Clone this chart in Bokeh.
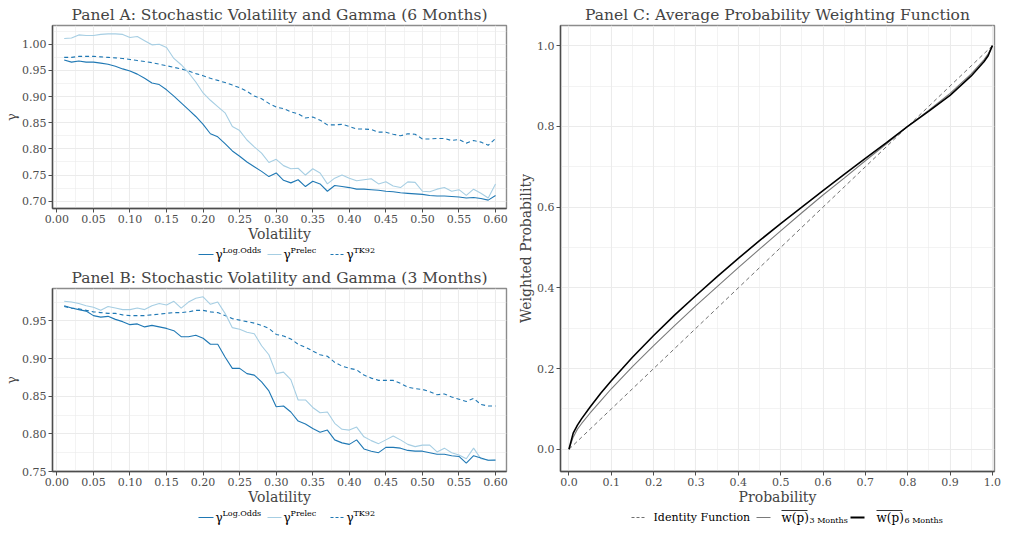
from bokeh.plotting import figure
from bokeh.layouts import column, row
from bokeh.models import Range1d, FixedTicker, NumeralTickFormatter
from bokeh.embed import file_html
from bokeh.resources import INLINE
from bokeh.core.properties import value

FONT = "DejaVu Serif"
BLUE = "#1F78B4"
LIGHT = "#A6CEE3"

volatility = [0.01, 0.02, 0.03, 0.04, 0.05, 0.06, 0.07, 0.08, 0.09, 0.10,
              0.11, 0.12, 0.13, 0.14, 0.15, 0.16, 0.17, 0.18, 0.19, 0.20,
              0.21, 0.22, 0.23, 0.24, 0.25, 0.26, 0.27, 0.28, 0.29, 0.30,
              0.31, 0.32, 0.33, 0.34, 0.35, 0.36, 0.37, 0.38, 0.39, 0.40,
              0.41, 0.42, 0.43, 0.44, 0.45, 0.46, 0.47, 0.48, 0.49, 0.50,
              0.51, 0.52, 0.53, 0.54, 0.55, 0.56, 0.57, 0.58, 0.59, 0.60]

# Panel A (6 months)
a_log_odds = [0.970, 0.966, 0.968, 0.966, 0.966, 0.964, 0.962, 0.958, 0.953, 0.949,
              0.943, 0.935, 0.926, 0.923, 0.913, 0.901, 0.888, 0.875, 0.862, 0.847,
              0.829, 0.823, 0.810, 0.796, 0.786, 0.775, 0.766, 0.757, 0.747, 0.754,
              0.740, 0.735, 0.741, 0.728, 0.738, 0.733, 0.719, 0.730, 0.728, 0.726,
              0.723, 0.723, 0.722, 0.721, 0.719, 0.718, 0.716, 0.715, 0.714, 0.713,
              0.711, 0.710, 0.710, 0.709, 0.708, 0.706, 0.707, 0.705, 0.702, 0.711]
a_prelec = [1.011, 1.012, 1.018, 1.017, 1.017, 1.019, 1.020, 1.020, 1.019, 1.013,
            1.015, 1.007, 0.999, 1.000, 0.994, 0.973, 0.961, 0.946, 0.928, 0.907,
            0.893, 0.881, 0.869, 0.843, 0.835, 0.817, 0.804, 0.792, 0.774, 0.780,
            0.768, 0.762, 0.763, 0.750, 0.762, 0.754, 0.733, 0.744, 0.750, 0.744,
            0.739, 0.741, 0.743, 0.733, 0.737, 0.729, 0.726, 0.737, 0.736, 0.719,
            0.718, 0.723, 0.726, 0.719, 0.722, 0.711, 0.723, 0.715, 0.706, 0.733]
a_tk92 = [0.975, 0.975, 0.977, 0.977, 0.977, 0.976, 0.975, 0.974, 0.973, 0.971,
          0.969, 0.967, 0.965, 0.962, 0.959, 0.956, 0.953, 0.949, 0.944, 0.940,
          0.935, 0.931, 0.927, 0.922, 0.917, 0.910, 0.901, 0.896, 0.887, 0.880,
          0.877, 0.871, 0.867, 0.859, 0.861, 0.855, 0.846, 0.846, 0.847, 0.843,
          0.838, 0.838, 0.837, 0.832, 0.832, 0.828, 0.825, 0.829, 0.828, 0.819,
          0.819, 0.820, 0.820, 0.816, 0.818, 0.811, 0.816, 0.813, 0.807, 0.820]

# Panel B (3 months)
b_log_odds = [0.970, 0.967, 0.965, 0.963, 0.957, 0.955, 0.956, 0.952, 0.949, 0.945,
              0.946, 0.942, 0.944, 0.942, 0.940, 0.937, 0.929, 0.929, 0.931, 0.927,
              0.919, 0.919, 0.902, 0.887, 0.887, 0.880, 0.878, 0.869, 0.857, 0.836,
              0.837, 0.829, 0.817, 0.813, 0.807, 0.802, 0.805, 0.792, 0.788, 0.786,
              0.792, 0.780, 0.777, 0.775, 0.782, 0.782, 0.781, 0.778, 0.777, 0.777,
              0.775, 0.773, 0.773, 0.771, 0.770, 0.761, 0.771, 0.768, 0.765, 0.765]
b_prelec = [0.976, 0.975, 0.973, 0.970, 0.968, 0.964, 0.969, 0.967, 0.965, 0.965,
            0.967, 0.965, 0.970, 0.973, 0.971, 0.976, 0.967, 0.975, 0.980, 0.982,
            0.972, 0.975, 0.960, 0.941, 0.939, 0.935, 0.933, 0.917, 0.905, 0.880,
            0.882, 0.872, 0.845, 0.845, 0.835, 0.828, 0.829, 0.814, 0.806, 0.805,
            0.809, 0.796, 0.791, 0.787, 0.792, 0.797, 0.792, 0.786, 0.783, 0.785,
            0.785, 0.776, 0.781, 0.775, 0.772, 0.767, 0.781, 0.767, 0.765, 0.766]
b_tk92 = [0.969, 0.967, 0.966, 0.964, 0.962, 0.961, 0.960, 0.960, 0.958, 0.957,
          0.957, 0.957, 0.958, 0.959, 0.960, 0.961, 0.961, 0.962, 0.964, 0.964,
          0.962, 0.961, 0.957, 0.953, 0.951, 0.949, 0.947, 0.944, 0.940, 0.932,
          0.930, 0.926, 0.919, 0.915, 0.910, 0.905, 0.903, 0.895, 0.890, 0.887,
          0.885, 0.878, 0.874, 0.871, 0.871, 0.871, 0.867, 0.862, 0.860, 0.859,
          0.856, 0.852, 0.853, 0.849, 0.846, 0.843, 0.847, 0.839, 0.837, 0.837]

# Panel C
probability = [0.0, 0.01, 0.02, 0.03, 0.05, 0.075, 0.1, 0.15, 0.2, 0.25, 0.3, 0.35,
               0.4, 0.45, 0.5, 0.55, 0.6, 0.65, 0.7, 0.75, 0.8, 0.85, 0.9, 0.95,
               0.98, 0.99, 1.0]
w_6_months = [0.0, 0.04, 0.06, 0.076, 0.105, 0.139, 0.170, 0.228, 0.282, 0.333, 0.381, 0.428,
              0.473, 0.517, 0.559, 0.600, 0.641, 0.681, 0.721, 0.760, 0.800, 0.838,
              0.877, 0.925, 0.960, 0.975, 1.0]
w_3_months = [0.0, 0.03, 0.05, 0.064, 0.090, 0.120, 0.150, 0.205, 0.257, 0.307, 0.356, 0.403,
              0.450, 0.496, 0.541, 0.586, 0.630, 0.672, 0.715, 0.757, 0.800, 0.840,
              0.882, 0.930, 0.965, 0.980, 1.0]

vol_ticks = [0.00, 0.05, 0.10, 0.15, 0.20, 0.25, 0.30, 0.35, 0.40, 0.45, 0.50, 0.55, 0.60]
vol_minor = [0.025, 0.075, 0.125, 0.175, 0.225, 0.275, 0.325, 0.375, 0.425, 0.475, 0.525, 0.575]
a_ticks = [0.70, 0.75, 0.80, 0.85, 0.90, 0.95, 1.00]
a_minor = [0.725, 0.775, 0.825, 0.875, 0.925, 0.975, 1.025]
b_ticks = [0.75, 0.80, 0.85, 0.90, 0.95]
b_minor = [0.775, 0.825, 0.875, 0.925, 0.975]
p_ticks = [0.0, 0.1, 0.2, 0.3, 0.4, 0.5, 0.6, 0.7, 0.8, 0.9, 1.0]
p_minor = [0.05, 0.15, 0.25, 0.35, 0.45, 0.55, 0.65, 0.75, 0.85, 0.95]
w_ticks = [0.0, 0.2, 0.4, 0.6, 0.8, 1.0]
w_minor = [0.1, 0.3, 0.5, 0.7, 0.9]

LEFT_W = 510
RIGHT_W = 494
TOP = 25
BOTTOM = 32
LEG_H = 19
A_LEFT, A_RIGHT = 52, 4
C_LEFT, C_RIGHT = 50, 10


def style(p, xt, xm, yt, ym, xfmt, yfmt, xlabel, ylabel, title):
    p.title.text = title
    p.title.text_font = FONT
    p.title.text_font_size = "15.5px"
    p.title.text_font_style = "normal"
    p.title.align = "center"
    p.title.standoff = 4
    p.xaxis.ticker = FixedTicker(ticks=xt, minor_ticks=xm)
    p.yaxis.ticker = FixedTicker(ticks=yt, minor_ticks=ym)
    p.xaxis.formatter = NumeralTickFormatter(format=xfmt)
    p.yaxis.formatter = NumeralTickFormatter(format=yfmt)
    for ax in (p.xaxis, p.yaxis):
        ax.axis_line_color = "#4d4d4d"
        ax.axis_line_width = 1.4
        ax.major_tick_line_color = "#4d4d4d"
        ax.major_tick_out = 4
        ax.major_tick_in = 0
        ax.minor_tick_out = 0
        ax.minor_tick_in = 0
        ax.major_label_text_font = FONT
        ax.major_label_text_font_size = "11px"
        ax.major_label_text_color = "#4d4d4d"
        ax.major_label_standoff = 2
        ax.axis_label_text_font = FONT
        ax.axis_label_text_font_style = "normal"
        ax.axis_label_standoff = 0
    p.xaxis.axis_label = xlabel
    p.yaxis.axis_label = ylabel
    for g in (p.xgrid, p.ygrid):
        g.grid_line_color = "#EBEBEB"
        g.grid_line_width = 1.1
        g.minor_grid_line_color = "#EBEBEB"
        g.minor_grid_line_width = 0.6
    p.outline_line_color = "#8c8c8c"
    p.outline_line_width = 1.4
    p.background_fill_color = "white"


def gamma_panel(title, lo, pr, tk, yr, yt, ym, height):
    p = figure(width=LEFT_W, height=height, x_range=Range1d(-0.006, 0.615), y_range=yr,
               output_backend="svg", toolbar_location=None,
               min_border_left=A_LEFT, min_border_right=A_RIGHT, min_border_top=TOP,
               min_border_bottom=BOTTOM)
    style(p, vol_ticks, vol_minor, yt, ym, "0.00", "0.00", "Volatility", "γ", title)
    p.xaxis.axis_label_text_font_size = "14px"
    p.yaxis.axis_label_text_font_size = "13px"
    p.line(volatility, tk, line_color=BLUE, line_width=1.1, line_dash="4 3")
    p.line(volatility, pr, line_color=LIGHT, line_width=1.1)
    p.line(volatility, lo, line_color=BLUE, line_width=1.1)
    return p


def legend_fig(width, height, left, right):
    f = figure(width=width, height=height, x_range=Range1d(left, width - right),
               y_range=Range1d(0, height),
               output_backend="svg", toolbar_location=None,
               min_border_left=left, min_border_right=right, min_border_top=0, min_border_bottom=0,
               x_axis_type=None, y_axis_type=None, outline_line_color=None)
    f.grid.visible = False
    return f


def gamma_legend():
    f = legend_fig(LEFT_W, LEG_H, A_LEFT, A_RIGHT)
    ly = 9
    f.segment(x0=[198], y0=[ly], x1=[213], y1=[ly], line_color=BLUE, line_width=1.2)
    f.segment(x0=[267], y0=[ly], x1=[281], y1=[ly], line_color=LIGHT, line_width=1.2)
    f.segment(x0=[330], y0=[ly], x1=[344], y1=[ly], line_color=BLUE, line_width=1.2, line_dash="3 2")
    f.text(x=[215, 283, 346], y=[ly] * 3, text=["γ", "γ", "γ"],
           text_font=value(FONT), text_font_size="12px", text_baseline="middle", text_align="left")
    f.text(x=[222, 290, 353], y=[ly + 4] * 3, text=["Log.Odds", "Prelec", "TK92"],
           text_font=value(FONT), text_font_size="8px", text_baseline="middle", text_align="left")
    return f


pA = gamma_panel("Panel A: Stochastic Volatility and Gamma (6 Months)", a_log_odds, a_prelec, a_tk92,
                 Range1d(0.686, 1.036), a_ticks, a_minor, TOP + 187 + BOTTOM)
pB = gamma_panel("Panel B: Stochastic Volatility and Gamma (3 Months)", b_log_odds, b_prelec, b_tk92,
                 Range1d(0.750, 0.993), b_ticks, b_minor, TOP + 187 + BOTTOM)
legA = gamma_legend()
legB = gamma_legend()

pC = figure(width=RIGHT_W, height=526 - LEG_H, x_range=Range1d(-0.02, 1.005), y_range=Range1d(-0.055, 1.05),
            output_backend="svg", toolbar_location=None,
            min_border_left=C_LEFT, min_border_right=C_RIGHT, min_border_top=TOP, min_border_bottom=BOTTOM)
style(pC, p_ticks, p_minor, w_ticks, w_minor, "0.0", "0.0", "Probability", "Weighted Probability",
      "Panel C: Average Probability Weighting Function")
pC.xaxis.axis_label_text_font_size = "14px"
pC.yaxis.axis_label_text_font_size = "14px"
pC.line(probability, probability, line_color="#707070", line_width=1, line_dash="4 3")
pC.line(probability, w_3_months, line_color="#7a7a7a", line_width=1.1)
pC.line(probability, w_6_months, line_color="black", line_width=1.6)

legC = legend_fig(RIGHT_W, LEG_H, C_LEFT, C_RIGHT)
ly = 9
legC.segment(x0=[121], y0=[ly], x1=[134], y1=[ly], line_color="#707070", line_width=1, line_dash="3 2")
legC.segment(x0=[246], y0=[ly], x1=[260], y1=[ly], line_color="#7a7a7a", line_width=1.1)
legC.segment(x0=[340], y0=[ly], x1=[354], y1=[ly], line_color="black", line_width=2)
legC.text(x=[143], y=[ly], text=["Identity Function"], text_font=value(FONT),
          text_font_size="11px", text_baseline="middle", text_align="left")
legC.text(x=[271, 366], y=[ly] * 2, text=["w(p)", "w(p)"], text_font=value(FONT),
          text_font_size="12px", text_baseline="middle", text_align="left")
legC.segment(x0=[271, 366], y0=[ly + 7] * 2, x1=[297, 392], y1=[ly + 7] * 2,
             line_color="black", line_width=0.8)
legC.text(x=[299, 394], y=[ly - 3] * 2, text=["3 Months", "6 Months"], text_font=value(FONT),
          text_font_size="8px", text_baseline="middle", text_align="left")

layout = row(column(pA, legA, pB, legB), column(pC, legC))
open("out.html", "w").write(file_html(layout, INLINE))
